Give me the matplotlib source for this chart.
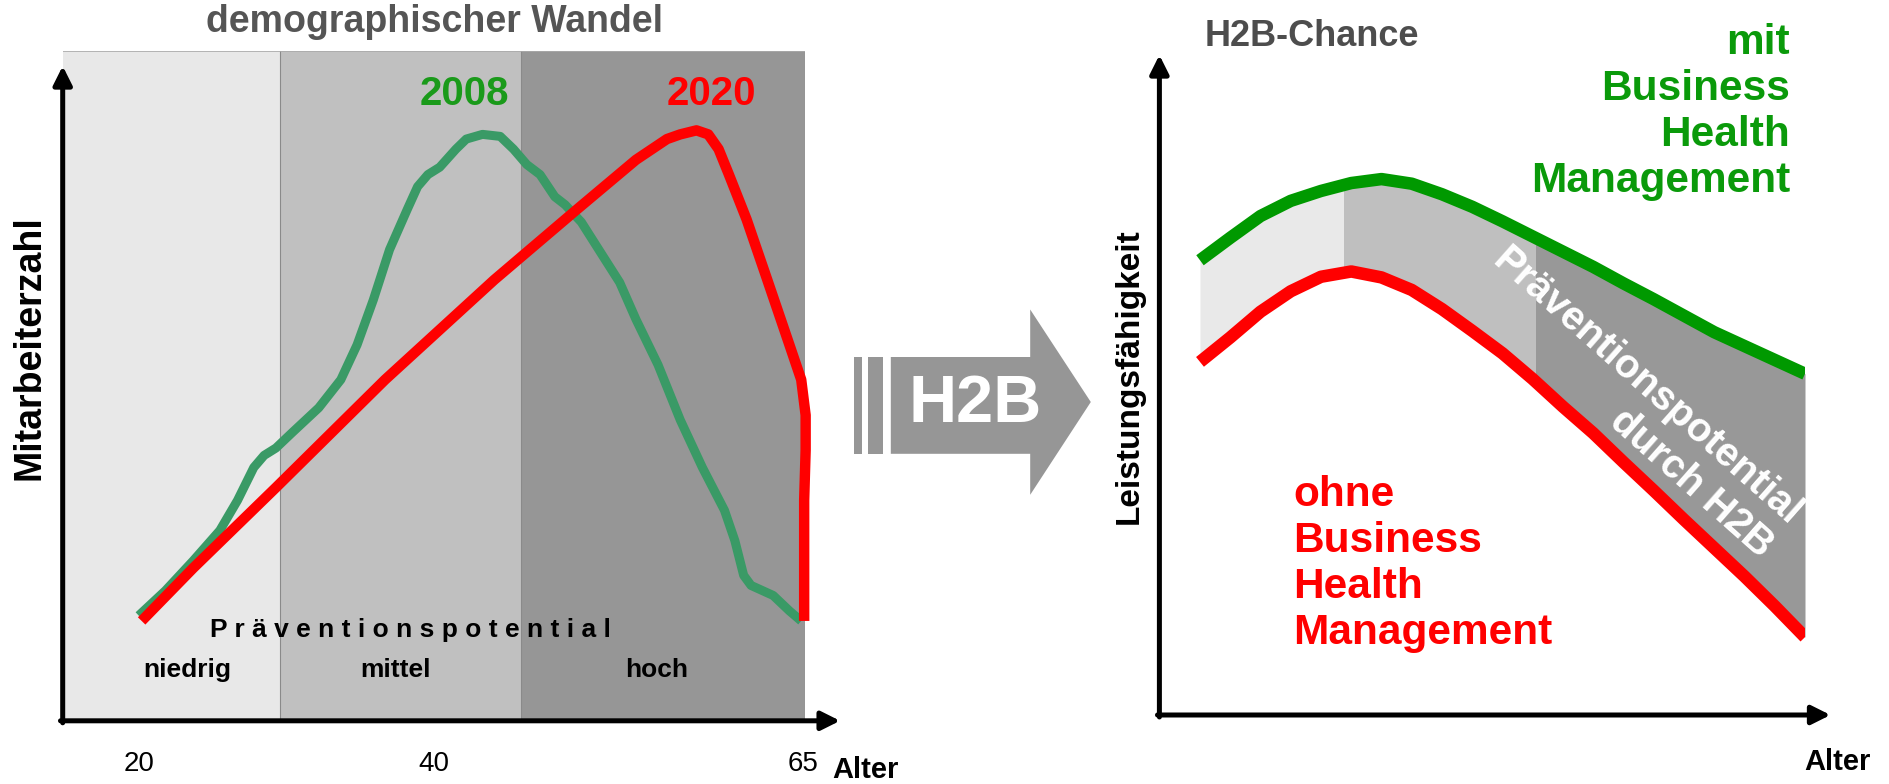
import numpy as np
import matplotlib
matplotlib.use("Agg")
import matplotlib.pyplot as plt
from matplotlib.patches import Rectangle, Polygon

plt.rcParams['font.family'] = ['Liberation Sans', 'DejaVu Sans']
NARROW = ['Liberation Sans Narrow', 'Liberation Sans', 'DejaVu Sans']

# --- linke Grafik: Mitarbeiterzahl nach Alter ---
alter_2008 = [20.0, 21.8, 23.7, 25.5, 26.7, 27.8, 28.5, 29.3, 30.4, 32.2, 33.7, 34.8, 35.9, 37.0,
              38.2, 38.9, 39.6, 40.4, 41.5, 42.2, 43.3, 44.5, 45.4, 46.3, 47.2, 48.2, 48.9, 50.0,
              51.5, 52.6, 53.7, 55.2, 56.7, 58.2, 59.7, 60.4, 61.0, 61.5, 63.0, 64.1, 64.9]
anzahl_2008 = [15.7, 19.4, 23.9, 28.4, 32.9, 37.8, 39.6, 40.7, 43.0, 46.7, 50.9, 56.1, 62.8, 70.3,
               76.3, 79.7, 81.5, 82.6, 85.3, 86.8, 87.5, 87.2, 85.3, 83.0, 81.5, 78.2, 77.0, 74.4,
               69.2, 65.4, 59.9, 53.1, 44.9, 37.8, 31.4, 26.9, 21.7, 20.2, 18.7, 16.4, 14.9]
alter_2020 = [20.2, 23.7, 29.3, 36.7, 44.1, 49.7, 53.7, 55.8, 56.7, 57.8, 58.6, 59.3, 60.0, 61.2,
              62.6, 64.1, 64.9, 65.2, 65.2, 65.1, 65.1]
anzahl_2020 = [14.9, 22.8, 34.8, 50.9, 65.8, 76.3, 83.7, 86.8, 87.5, 88.1, 87.5, 85.3, 81.5, 74.8,
               65.8, 56.1, 50.9, 45.6, 40.4, 32.9, 14.9]
zonen_grenzen = [14.85, 29.56, 45.89, 65.17]
zonen_namen = ['niedrig', 'mittel', 'hoch']
zonen_farben = ['#e8e8e8', '#c0c0c0', '#969696']
alter_ticks = [20, 40, 65]

# --- rechte Grafik: Leistungsfaehigkeit ---
alter_r = list(range(0, 101, 5))
mit_bhm = [68.9, 72.3, 75.6, 77.9, 79.4, 80.6, 81.2, 80.5, 78.9, 77.0, 74.8, 72.5, 70.2, 67.9,
           65.4, 63.0, 60.5, 58.0, 55.9, 53.8, 51.7]
ohne_bhm = [53.5, 57.2, 61.1, 64.2, 66.4, 67.2, 66.3, 64.4, 61.5, 58.2, 54.8, 50.9, 46.7, 42.7,
            38.3, 34.0, 29.6, 25.3, 21.0, 16.5, 11.8]
band_grenzen = [0, 23.85, 55.5, 100]
band_farben = ['#e9e9e9', '#bfbfbf', '#989898']

GRUEN_L = '#3a9a66'
GRUEN = '#0a9a0a'
ROT = '#ff0000'

W, H = 1890, 784
fig = plt.figure(figsize=(18.9, 7.84), dpi=100)


def ax_rect(x0, x1, ytop, ybot):
    return [x0 / W, 1 - ybot / H, (x1 - x0) / W, (ybot - ytop) / H]


def pfeile(ax, xtip, ytip):
    kw = dict(arrowstyle='-|>', lw=3.6, color='black', mutation_scale=28,
              shrinkA=0, shrinkB=0)
    ax.annotate('', xy=(0, ytip), xytext=(0, -0.003), xycoords='axes fraction',
                arrowprops=kw, annotation_clip=False)
    ax.annotate('', xy=(xtip, 0), xytext=(-0.003, 0), xycoords='axes fraction',
                arrowprops=kw, annotation_clip=False)


# linke Achse
ax1 = fig.add_axes(ax_rect(62.7, 805.2, 50.6, 720.8))
ax1.set_xlim(zonen_grenzen[0], zonen_grenzen[-1])
ax1.set_ylim(0, 100)
for i in range(3):
    ax1.axvspan(zonen_grenzen[i], zonen_grenzen[i + 1], color=zonen_farben[i], lw=0, zorder=0)
for g in zonen_grenzen[1:]:
    ax1.axvline(g, color='#8a8a8a', lw=0.8, zorder=0.5)
ax1.axhline(100, color='#aaaaaa', lw=1.2, zorder=0.5)
ax1.plot(alter_2008, anzahl_2008, color=GRUEN_L, lw=6.5, solid_joinstyle='round',
         solid_capstyle='butt', clip_on=False, zorder=2)
ax1.plot(alter_2020, anzahl_2020, color=ROT, lw=7.5, solid_joinstyle='round',
         solid_capstyle='butt', clip_on=False, zorder=3)
for s in ax1.spines.values():
    s.set_visible(False)
ax1.set_yticks([])
ax1.set_xticks(alter_ticks)
ax1.set_xticklabels([str(a) for a in alter_ticks], fontsize=20, family=NARROW)
ax1.tick_params(axis='x', length=0, pad=22)
pfeile(ax1, 1.047, 0.977)

# rechte Achse
ax2 = fig.add_axes(ax_rect(1159.4, 1805, 55, 715))
ax2.set_xlim(-6.71, 100)
ax2.set_ylim(0, 100)
for i in range(3):
    f = ax2.fill_between(alter_r, ohne_bhm, mit_bhm, color=band_farben[i], lw=0, zorder=1)
    clip = Rectangle((band_grenzen[i], 0), band_grenzen[i + 1] - band_grenzen[i], 100,
                     transform=ax2.transData)
    f.set_clip_path(clip)
ax2.plot(alter_r, mit_bhm, color='#009900', lw=9, solid_capstyle='butt',
         solid_joinstyle='round', zorder=3)
ax2.plot(alter_r, ohne_bhm, color=ROT, lw=9, solid_capstyle='butt',
         solid_joinstyle='round', zorder=3)
for s in ax2.spines.values():
    s.set_visible(False)
ax2.set_xticks([])
ax2.set_yticks([])
pfeile(ax2, 1.0395, 1.0)

# Overlay fuer Texte und den H2B-Pfeil (Pixelkoordinaten)
ov = fig.add_axes([0, 0, 1, 1], zorder=5)
ov.set_xlim(0, W)
ov.set_ylim(H, 0)
ov.axis('off')

ov.text(434, 22, 'demographischer Wandel', fontsize=27, fontweight='bold', color='#555555',
        ha='center', va='center')
ov.text(464, 94, '2008', fontsize=29, fontweight='bold', color='#1a9a1a', ha='center', va='center')
ov.text(711, 94, '2020', fontsize=29, fontweight='bold', color=ROT, ha='center', va='center')
ov.text(410, 630, ' '.join('Präventionspotential'), fontsize=19, fontweight='bold',
        ha='center', va='center', family=NARROW)
for name, xc in zip(zonen_namen, [187, 395, 657]):
    ov.text(xc, 670, name, fontsize=19, fontweight='bold', ha='center', va='center', family=NARROW)
ov.text(30, 348, 'Mitarbeiterzahl', fontsize=27, fontweight='bold', rotation=90,
        ha='center', va='center')
ov.text(832, 770, 'Alter', fontsize=21, fontweight='bold', ha='left', va='center')

# H2B-Pfeil
grau = '#969696'
ov.add_patch(Rectangle((853.8, 357), 8.5, 96.8, color=grau, lw=0))
ov.add_patch(Rectangle((867.9, 357), 14.7, 96.8, color=grau, lw=0))
ov.add_patch(Polygon([(890.8, 357), (1030.2, 357), (1030.2, 309.5), (1090.8, 402),
                      (1030.2, 494.8), (1030.2, 453.8), (890.8, 453.8)], closed=True,
                     color=grau, lw=0))
ov.text(975, 405, 'H2B', fontsize=48, fontweight='bold', color='white', ha='center', va='center')

# rechte Texte
ov.text(1205, 36, 'H2B-Chance', fontsize=26, fontweight='bold', color='#4d4d4d',
        ha='left', va='center')
ov.text(1790, 112, 'mit\nBusiness\nHealth\nManagement', fontsize=30.5, fontweight='bold',
        color=GRUEN, ha='right', va='center', multialignment='right', linespacing=1.2)
ov.text(1293, 564, 'ohne\nBusiness\nHealth\nManagement', fontsize=30.5, fontweight='bold',
        color=ROT, ha='left', va='center', multialignment='left', linespacing=1.2)
ov.text(1129, 376, 'Leistungsfähigkeit', fontsize=24, fontweight='bold', rotation=90,
        ha='center', va='center')
ov.text(1804, 762, 'Alter', fontsize=21, fontweight='bold', ha='left', va='center')
ov.text(1633, 403, 'Präventionspotential\ndurch H2B', fontsize=29, fontweight='bold',
        color='white', rotation=-41.5, rotation_mode='anchor', ha='center', va='center',
        multialignment='right', linespacing=1.15)

fig.savefig('out.png', dpi=100)
